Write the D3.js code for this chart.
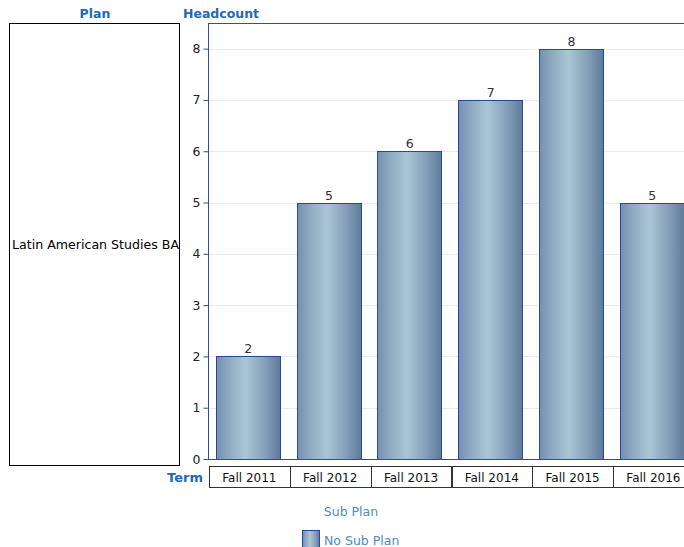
<!DOCTYPE html>
<html>
<head>
<meta charset="utf-8">
<script src="https://cdn.jsdelivr.net/npm/d3@7"></script>
<style>
  body { margin: 0; background: #fff; }
  svg { display: block; }
</style>
</head>
<body>
<div id="chart"></div>
<script>
// data
const terms = ["Fall 2011", "Fall 2012", "Fall 2013", "Fall 2014", "Fall 2015", "Fall 2016"];
const headcount = [2, 5, 6, 7, 8, 5];
const plan = "Latin American Studies BA";
const yTicks = [0, 1, 2, 3, 4, 5, 6, 7, 8];

const W = 684, H = 547;
const blue = "#2469b3";
const axisColor = "#2c4fa0";
const font = "DejaVu Sans";

const svg = d3.select("#chart").append("svg")
  .attr("width", W).attr("height", H);

const defs = svg.append("defs");
const grad = defs.append("linearGradient").attr("id", "barGrad")
  .attr("x1", "0%").attr("x2", "100%").attr("y1", "0%").attr("y2", "0%");
grad.append("stop").attr("offset", "0%").attr("stop-color", "#7590ae");
grad.append("stop").attr("offset", "20%").attr("stop-color", "#8eaac3");
grad.append("stop").attr("offset", "45%").attr("stop-color", "#abc6d3");
grad.append("stop").attr("offset", "75%").attr("stop-color", "#86a0bb");
grad.append("stop").attr("offset", "100%").attr("stop-color", "#5f7b98");

// scales
const x = d3.scaleBand().domain(terms).range([209, 691.4]).paddingInner(0.21).paddingOuter(0.09);
const y = d3.scaleLinear().domain([0, 8.5]).range([459, 23]);

// headers
svg.append("text").attr("x", 95).attr("y", 18).attr("text-anchor", "middle")
  .style("font-family", font).style("font-size", "12.5px").style("font-weight", "bold")
  .attr("fill", blue).text("Plan");
svg.append("text").attr("x", 183).attr("y", 18)
  .style("font-family", font).style("font-size", "12.5px").style("font-weight", "bold")
  .attr("fill", blue).text("Headcount");

// plan box
svg.append("rect").attr("x", 9.5).attr("y", 23.5).attr("width", 170).attr("height", 442)
  .attr("fill", "none").attr("stroke", "#000");
svg.append("text").attr("x", 12).attr("y", 249)
  .style("font-family", font).style("font-size", "12.6px")
  .attr("fill", "#000").text(plan);

// gridlines
svg.append("g").selectAll("line").data(yTicks.filter(d => d > 0)).enter()
  .append("line")
    .attr("x1", 209).attr("x2", W)
    .attr("y1", d => Math.round(y(d)) + 0.5).attr("y2", d => Math.round(y(d)) + 0.5)
    .attr("stroke", "#e9e9e9");

// bars
svg.append("g").selectAll("rect").data(terms).enter()
  .append("rect")
    .attr("x", d => Math.floor(x(d)) + 0.5)
    .attr("y", (d, i) => Math.round(y(headcount[i])) + 0.5)
    .attr("width", Math.round(x.bandwidth()))
    .attr("height", (d, i) => y(0) - Math.round(y(headcount[i])))
    .attr("fill", "url(#barGrad)")
    .attr("stroke", "#2348a3").attr("stroke-width", 1);

// value labels
svg.append("g").selectAll("text").data(terms).enter()
  .append("text")
    .attr("x", d => x(d) + x.bandwidth() / 2)
    .attr("y", (d, i) => y(headcount[i]) - 3)
    .attr("text-anchor", "middle")
    .style("font-family", font).style("font-size", "12.5px")
    .attr("fill", "#333")
    .text((d, i) => headcount[i]);

// y axis
const yAxis = d3.axisLeft(y).tickValues(yTicks).tickSize(5).tickFormat(d3.format("d"));
const gy = svg.append("g").attr("transform", "translate(208.5,0)").call(yAxis);
gy.select(".domain").remove();
gy.selectAll(".tick line").attr("stroke", axisColor);
gy.selectAll(".tick text").attr("fill", "#222")
  .style("font-family", font).style("font-size", "12.5px");
svg.append("line").attr("x1", 208.5).attr("x2", 208.5).attr("y1", 23).attr("y2", 460)
  .attr("stroke", axisColor);
svg.append("line").attr("x1", 208).attr("x2", W).attr("y1", 23.5).attr("y2", 23.5)
  .attr("stroke", axisColor);
svg.append("line").attr("x1", 208).attr("x2", W).attr("y1", 459.5).attr("y2", 459.5)
  .attr("stroke", axisColor);

// term row
svg.append("text").attr("x", 203).attr("y", 482).attr("text-anchor", "end")
  .style("font-family", font).style("font-size", "13px").style("font-weight", "bold")
  .attr("fill", blue).text("Term");
const step = x.step();
const cells = svg.append("g").selectAll("g").data(terms).enter().append("g");
cells.append("rect")
  .attr("x", (d, i) => Math.round(209 + i * step) + 0.5)
  .attr("y", 466.5)
  .attr("width", Math.round(step))
  .attr("height", 21)
  .attr("fill", "none").attr("stroke", "#333");
cells.append("text")
  .attr("x", (d, i) => 209 + i * step + step / 2)
  .attr("y", 482)
  .attr("text-anchor", "middle")
  .style("font-family", font).style("font-size", "12px")
  .attr("fill", "#111").text(d => d);

// legend
svg.append("text").attr("x", 351).attr("y", 516).attr("text-anchor", "middle")
  .style("font-family", font).style("font-size", "12.5px")
  .attr("fill", "#4a8cc8").text("Sub Plan");
svg.append("rect").attr("x", 302.5).attr("y", 530.5).attr("width", 17).attr("height", 17)
  .attr("fill", "url(#barGrad)").attr("stroke", "#2348a3");
svg.append("text").attr("x", 324).attr("y", 545)
  .style("font-family", font).style("font-size", "12.5px")
  .attr("fill", "#4a8cc8").text("No Sub Plan");
</script>
</body>
</html>
